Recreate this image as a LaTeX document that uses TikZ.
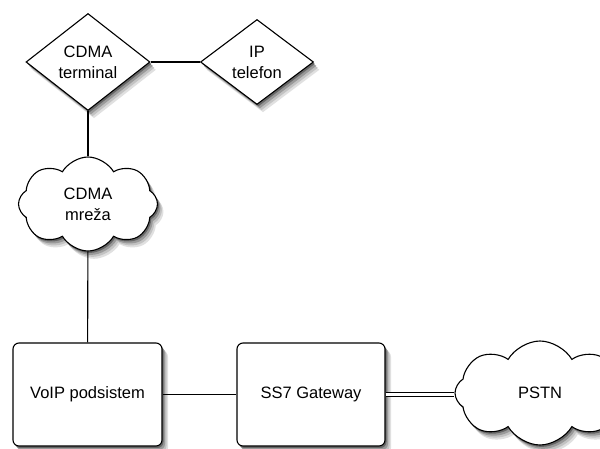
\documentclass[tikz,border=0pt]{standalone}
\usepackage{fontspec}
\setmainfont{Liberation Sans}
\usepackage{tikz}
\usetikzlibrary{shapes.geometric,shapes.symbols,positioning}

\begin{document}
\begin{tikzpicture}[x=1pt,y=-1pt,
    every node/.style={font=\fontsize{16.5}{21}\selectfont,align=center},
    device/.style={diamond,draw,line width=1.1pt,fill=white,inner sep=0pt},
    net/.style={cloud,draw,line width=1.1pt,fill=white,cloud puffs=8,cloud puff arc=120,inner sep=0pt},
    unit/.style={rectangle,draw,line width=1.1pt,fill=white,rounded corners=6pt,inner sep=0pt},
    shadowpart/.style={draw=none,fill=black!#1}]
                \useasboundingbox[fill=white] (0,0) rectangle (600,448);

                % Shadows
                \foreach \off/\tone in {6/12,4.5/24,3/40,1.5/60}{
                    \node[device,shadowpart=\tone,minimum width=124,minimum height=97] (sh1) at (88+\off,62+\off*1.3) {};
                    \node[device,shadowpart=\tone,minimum width=113,minimum height=85] (sh2) at (257+\off,62+\off*1.3) {};
                    \node[net,shadowpart=\tone,minimum width=139,minimum height=94] (sh3) at (88+\off,204+\off*1.3) {};
                    \node[net,shadowpart=\tone,minimum width=170,minimum height=104] (sh4) at (540+\off,393+\off*1.3) {};
                    \node[unit,shadowpart=\tone,minimum width=149,minimum height=103] (sh5) at (87.5+\off,394.5+\off*1.3) {};
                    \node[unit,shadowpart=\tone,minimum width=148,minimum height=103] (sh6) at (311+\off,394.5+\off*1.3) {};
                }

                % Terminals
                \node[device,minimum width=124,minimum height=97] (term) at (88,62) {CDMA\\terminal};
                \node[device,minimum width=113,minimum height=85] (ipt) at (257,62) {IP\\telefon};

                % Networks
                \node[net,minimum width=139,minimum height=94] (cdma) at (88,204) {CDMA\\mreža};
                \node[net,minimum width=170,minimum height=104] (pstn) at (540,393) {PSTN};

                % Subsystems
                \node[unit,minimum width=149,minimum height=103] (voip) at (87.5,394.5) {VoIP podsistem};
                \node[unit,minimum width=148,minimum height=103] (ss7) at (311,394.5) {SS7 Gateway};

                % Links
                \draw[line width=1.1pt] (term) -- (ipt);
                \draw[line width=1.1pt] (term) -- (cdma);
                \draw[line width=1.1pt] (cdma) -- (voip);
                \draw[line width=1.1pt] (voip) -- (ss7);
                \draw[line width=1.1pt,double=white,double distance=2.5pt] (ss7) -- (ss7 -| pstn.west);
\end{tikzpicture}
\end{document}
